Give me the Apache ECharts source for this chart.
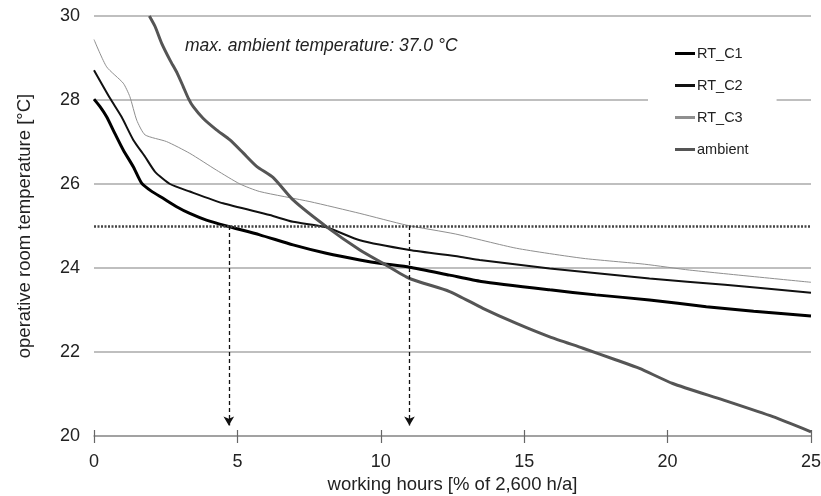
<!DOCTYPE html>
<html>
<head>
<meta charset="utf-8">
<script src="https://cdn.jsdelivr.net/npm/echarts@6/dist/echarts.min.js"></script>
<style>
html,body{margin:0;padding:0;background:#fff;}
#chart{width:821px;height:496px;}
</style>
</head>
<body>
<div id="chart"></div>
<script>
// ---- data ----
const seriesNames = ['RT_C1', 'RT_C2', 'RT_C3', 'ambient'];
const xTicks = [0, 5, 10, 15, 20, 25];
const yTicks = [20, 22, 24, 26, 28, 30];

const c1X = [0, 0.21, 0.44, 0.73, 1.02, 1.37, 1.66, 2.0, 2.41, 2.88, 3.34, 3.92, 4.62, 5.78, 6.94, 8.1, 9.27, 10.08, 11.0, 12.4, 13.5, 15.89, 17.5, 19.37, 21.35, 23.0, 25.0];
const c1Y = [28.02, 27.84, 27.6, 27.2, 26.81, 26.41, 26.02, 25.83, 25.66, 25.46, 25.3, 25.14, 25.0, 24.79, 24.55, 24.35, 24.19, 24.1, 24.02, 23.83, 23.68, 23.48, 23.36, 23.24, 23.08, 22.97, 22.86];

const c2X = [0, 0.56, 0.96, 1.37, 1.78, 2.13, 2.65, 3.34, 4.5, 6.13, 6.94, 8.1, 9.27, 11.0, 12.75, 13.45, 15.89, 19.37, 22.0, 25.0];
const c2Y = [28.71, 28.04, 27.6, 27.05, 26.65, 26.29, 26.0, 25.82, 25.54, 25.26, 25.1, 24.97, 24.66, 24.43, 24.27, 24.19, 23.99, 23.75, 23.6, 23.41];

const c3X = [0, 0.44, 1.02, 1.25, 1.49, 1.78, 2.53, 3.34, 4.27, 5.09, 5.78, 7.53, 9.27, 10.9, 12.6, 14.73, 17.05, 19.2, 20.77, 25.0];
const c3Y = [29.44, 28.79, 28.4, 28.08, 27.52, 27.17, 27.01, 26.73, 26.33, 26.0, 25.82, 25.58, 25.3, 25.02, 24.81, 24.47, 24.23, 24.09, 23.95, 23.66];

const ambX = [1.93, 2.13, 2.36, 2.65, 2.9, 3.11, 3.29, 3.46, 3.81, 4.27, 4.74, 5.2, 5.67, 6.25, 6.94, 8.11, 9.27, 10.08, 11.0, 12.4, 13.56, 14.73, 15.89, 17.05, 18.21, 19.02, 20.18, 21.93, 23.67, 25.0];
const ambY = [30.0, 29.75, 29.35, 28.95, 28.64, 28.32, 28.04, 27.84, 27.56, 27.29, 27.05, 26.74, 26.42, 26.15, 25.62, 24.98, 24.43, 24.11, 23.75, 23.44, 23.04, 22.68, 22.36, 22.09, 21.81, 21.61, 21.25, 20.86, 20.46, 20.1];

const comfortLimit = 25;
const limitCrossings = [4.7, 11.0];
const arrowEnd = 20.25;
const annotation = 'max. ambient temperature: 37.0 °C';
const xName = 'working hours [% of 2,600 h/a]';
const yName = 'operative room temperature [°C]';

// ---- chart ----
const zip = (xs, ys) => xs.map((x, i) => [x, ys[i]]);
const font = 'Liberation Sans, Arial, sans-serif';
const chart = echarts.init(document.getElementById('chart'), null, {renderer: 'canvas'});

const styles = [
  {color: '#000', width: 3},
  {color: '#111', width: 2},
  {color: '#8f8f8f', width: 1},
  {color: '#555', width: 3}
];
const datasets = [zip(c1X, c1Y), zip(c2X, c2Y), zip(c3X, c3Y), zip(ambX, ambY)];

const lineSeries = seriesNames.map((n, i) => ({
  name: n,
  type: 'line',
  data: datasets[i],
  symbol: 'none',
  showSymbol: false,
  smooth: 0.2,
  clip: true,
  lineStyle: {color: styles[i].color, width: styles[i].width},
  itemStyle: {color: styles[i].color},
  z: 3
}));

const markSeries = {
  name: 'marks',
  type: 'line',
  data: [],
  silent: true,
  markLine: {
    silent: true,
    animation: false,
    label: {show: false},
    data: [
      [{coord: [0, comfortLimit], symbol: 'none', lineStyle: {type: [2, 1.5], width: 2.5, color: '#444'}},
       {coord: [25, comfortLimit], symbol: 'none'}],
      ...limitCrossings.map(x => [
        {coord: [x, comfortLimit], symbol: 'none', lineStyle: {type: [4, 3], width: 1.3, color: '#111'}},
        {coord: [x, arrowEnd], symbol: 'arrow', symbolSize: [8, 9]}
      ])
    ]
  }
};

chart.setOption({
  animation: false,
  backgroundColor: '#fff',
  textStyle: {fontFamily: font},
  grid: {left: 94, right: 10, top: 16, bottom: 60, containLabel: false, outerBoundsMode: 'none'},
  legend: {
    data: seriesNames.map((n, i) => ({name: n, itemStyle: {color: styles[i].color}})),
    orient: 'vertical',
    left: 648,
    top: 30,
    padding: [16, 28, 14, 27],
    itemGap: 17,
    itemWidth: 20,
    itemHeight: 3,
    icon: 'rect',
    backgroundColor: '#fff',
    textStyle: {fontFamily: font, fontSize: 14.5, lineHeight: 14, color: '#222', padding: [0, 0, 0, -3]},
    selectedMode: false,
    z: 10
  },
  xAxis: [{
    type: 'value',
    min: 0, max: 25, interval: 5,
    name: xName,
    nameLocation: 'middle',
    nameGap: 39,
    nameTextStyle: {fontFamily: font, fontSize: 18.5, color: '#222'},
    axisLine: {show: true, onZero: false, lineStyle: {color: '#999', width: 1.5}},
    axisTick: {show: true, length: 7, lineStyle: {color: '#666', width: 1.2}},
    axisLabel: {fontFamily: font, fontSize: 18, color: '#222', margin: 17,
      formatter: v => xTicks.includes(v) ? String(v) : ''},
    splitLine: {show: false}
  }, {
    type: 'value',
    min: 0, max: 25, interval: 5,
    position: 'bottom',
    axisLine: {show: false},
    axisTick: {show: true, inside: true, length: 6, lineStyle: {color: '#666', width: 1.2}},
    axisLabel: {show: false},
    splitLine: {show: false}
  }],
  yAxis: {
    type: 'value',
    min: 20, max: 30, interval: 2,
    name: yName,
    nameLocation: 'middle',
    nameGap: 60,
    nameTextStyle: {fontFamily: font, fontSize: 18.5, color: '#222'},
    axisLine: {show: false},
    axisTick: {show: false},
    axisLabel: {fontFamily: font, fontSize: 18, color: '#222', margin: 14,
      formatter: v => yTicks.includes(v) ? String(v) : ''},
    splitLine: {show: true, lineStyle: {color: '#aaa', width: 1.5}}
  },
  graphic: [{
    type: 'text',
    left: 185,
    top: 37,
    style: {text: annotation, font: 'italic 17.5px ' + font, fill: '#222'}
  }],
  series: [...lineSeries, markSeries]
});
</script>
</body>
</html>
